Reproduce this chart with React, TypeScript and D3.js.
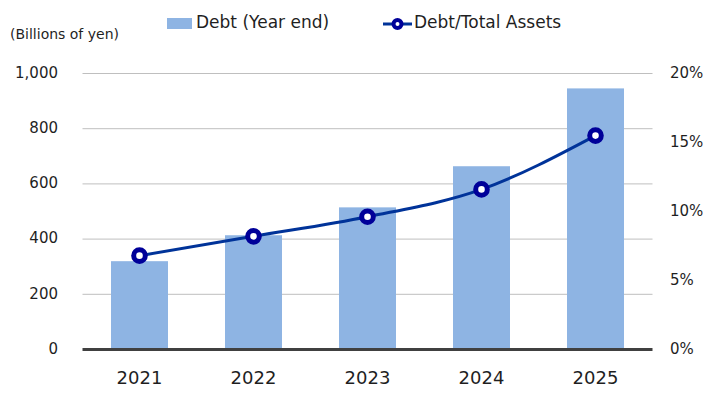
import React from 'react';
import * as d3 from 'd3';

// Chart values
const years = ['2021', '2022', '2023', '2024', '2025'];
const debt = [320, 414, 515, 664, 946]; // billions of yen
const debtRatio = [0.068, 0.082, 0.0962, 0.116, 0.155]; // debt / total assets
const leftTicks = [0, 200, 400, 600, 800, 1000];
const rightTicks = [0, 0.05, 0.1, 0.15, 0.2];

const width = 719;
const height = 403;
const plot = {
  left: 82.5, right: 652.5, top: 73.5, bottom: 349.5,
};
const font = '"DejaVu Sans", Verdana, sans-serif';
const barColor = '#8EB4E3';
const lineColor = '#003399';
const markerColor = '#000099';
const textColor = '#1f1f1f';

const App: React.FC = () => {
  const x = d3.scaleBand<string>()
    .domain(years)
    .range([plot.left, plot.right])
    .paddingInner(0.5)
    .paddingOuter(0.25);
  const yLeft = d3.scaleLinear().domain([0, 1000]).range([plot.bottom, plot.top]);
  const yRight = d3.scaleLinear().domain([0, 0.2]).range([plot.bottom, plot.top]);

  const center = (d: string) => (x(d) ?? 0) + x.bandwidth() / 2;

  const line = d3.line<number>()
    .x((_, i) => center(years[i]))
    .y((d) => yRight(d))
    .curve(d3.curveMonotoneX);

  const fmtLeft = d3.format(',');
  const fmtRight = d3.format('.0%');

  return (
    <svg
      width={width}
      height={height}
      style={{ position: 'absolute', left: 0, top: 0, background: '#fff' }}
      fontFamily={font}
    >
      {/* Grid */}
      {leftTicks.filter((t) => t > 0).map((t) => (
        <line
          key={t}
          x1={plot.left}
          x2={plot.right}
          y1={yLeft(t)}
          y2={yLeft(t)}
          stroke="#BFBFBF"
          strokeWidth={1}
        />
      ))}

      {/* Bars */}
      {debt.map((v, i) => (
        <rect
          key={years[i]}
          x={x(years[i])}
          y={yLeft(v)}
          width={x.bandwidth()}
          height={yLeft(0) - yLeft(v)}
          fill={barColor}
        />
      ))}

      {/* Base axis */}
      <line
        x1={plot.left}
        x2={plot.right}
        y1={plot.bottom}
        y2={plot.bottom}
        stroke="#404040"
        strokeWidth={3}
      />

      {/* Ratio line */}
      <path d={line(debtRatio) ?? ''} fill="none" stroke={lineColor} strokeWidth={3} />
      {debtRatio.map((v, i) => (
        <circle
          key={years[i]}
          cx={center(years[i])}
          cy={yRight(v)}
          r={5.8}
          fill="#fff"
          stroke={markerColor}
          strokeWidth={5}
        />
      ))}

      {/* Left axis labels */}
      {leftTicks.map((t) => (
        <text
          key={t}
          x={58}
          y={yLeft(t) - 1}
          dy="0.35em"
          textAnchor="end"
          fontSize={15}
          fill={textColor}
        >
          {fmtLeft(t)}
        </text>
      ))}

      {/* Right axis labels */}
      {rightTicks.map((t) => (
        <text
          key={t}
          x={670}
          y={yRight(t) - 1}
          dy="0.35em"
          fontSize={15}
          fill={textColor}
        >
          {fmtRight(t)}
        </text>
      ))}

      {/* Category labels */}
      {years.map((yr) => (
        <text
          key={yr}
          x={center(yr)}
          y={378}
          dy="0.35em"
          textAnchor="middle"
          fontSize={18}
          fill={textColor}
        >
          {yr}
        </text>
      ))}

      {/* Unit */}
      <text x={10} y={34} dy="0.35em" fontSize={14} fill={textColor}>(Billions of yen)</text>

      {/* Legend */}
      <rect x={167} y={18} width={25} height={11} fill={barColor} />
      <text x={196} y={22} dy="0.35em" fontSize={17} fill={textColor}>Debt (Year end)</text>
      <line x1={383} x2={412} y1={24} y2={24} stroke={lineColor} strokeWidth={3} />
      <circle cx={397.5} cy={24} r={4} fill="#fff" stroke={markerColor} strokeWidth={4} />
      <text x={414} y={22} dy="0.35em" fontSize={17} fill={textColor}>Debt/Total Assets</text>
    </svg>
  );
};

export default App;
